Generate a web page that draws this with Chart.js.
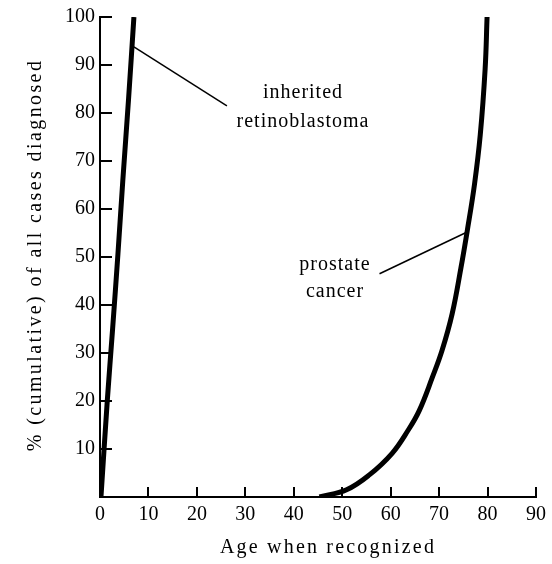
<!DOCTYPE html>
<html>
<head>
<meta charset="utf-8">
<script src="https://cdn.jsdelivr.net/npm/chart.js@4/dist/chart.umd.min.js"></script>
<style>
    html, body { margin: 0; padding: 0; background: #fff; }
    #wrap { width: 552px; height: 564px; }
</style>
</head>
<body>
<div id="wrap"><canvas id="chart" width="552" height="564"></canvas></div>
<script>
// values (age in years, cumulative %)
const retinoAge = [0.2, 1.5, 2.6, 3.7, 4.7, 5.9, 7.0];
const retinoPct = [0, 20, 35, 50.6, 65.8, 83, 100];

const prostateAge = [45.3, 50.9, 55.6, 60.3, 63.6, 65.9, 68.6, 70.6, 72.7, 74.5, 75.8, 77.3, 78.5, 79.5, 79.9];
const prostatePct = [0, 1.5, 4.6, 9.1, 13.9, 18, 24.9, 30.5, 38.2, 47.7, 55.4, 65.1, 75.5, 89.2, 100];

// leader lines for the two callouts
const retinoLeaderAge = [7.0, 26.2];
const retinoLeaderPct = [93.8, 81.5];
const prostateLeaderAge = [75.8, 57.7];
const prostateLeaderPct = [55.2, 46.5];

const xTicks = [0, 10, 20, 30, 40, 50, 60, 70, 80, 90];
const yTicks = [10, 20, 30, 40, 50, 60, 70, 80, 90, 100];

const FONT = '"Liberation Serif", "DejaVu Serif", serif';

function toPoints(xs, ys) {
    return xs.map((x, i) => ({ x: x, y: ys[i] }));
}

// inward tick marks, callout text and axis titles
const decorations = {
    id: 'decorations',
    afterDraw(chart) {
        const ctx = chart.ctx;
        const x = chart.scales.x;
        const y = chart.scales.y;
        const left = x.getPixelForValue(0);
        const bottom = y.getPixelForValue(0);

        ctx.save();
        ctx.strokeStyle = '#000';
        ctx.lineWidth = 2;
        ctx.beginPath();
        yTicks.forEach(v => {
            const py = Math.round(y.getPixelForValue(v));
            ctx.moveTo(left, py);
            ctx.lineTo(left + 12, py);
        });
        xTicks.slice(1).forEach(v => {
            const px = Math.round(x.getPixelForValue(v));
            ctx.moveTo(px, bottom);
            ctx.lineTo(px, bottom - 10);
        });
        ctx.stroke();

        ctx.fillStyle = '#000';
        ctx.textAlign = 'center';
        ctx.textBaseline = 'middle';
        ctx.font = '20px ' + FONT;
        ctx.letterSpacing = '1px';
        ctx.fillText('inherited', 303, 93);
        ctx.fillText('retinoblastoma', 303, 122);
        ctx.fillText('prostate', 335, 265);
        ctx.fillText('cancer', 335, 292);

        ctx.letterSpacing = '2.2px';
        ctx.fillText('Age when recognized', 328, 548);

        ctx.translate(36, 255);
        ctx.rotate(-Math.PI / 2);
        ctx.letterSpacing = '2.4px';
        ctx.fillText('% (cumulative) of all cases diagnosed', 0, 0);
        ctx.restore();
    }
};

const thick = { borderColor: '#000', borderWidth: 5, pointRadius: 0, showLine: true, tension: 0.4, fill: false };
const thin = { borderColor: '#000', borderWidth: 1.5, pointRadius: 0, showLine: true, tension: 0, fill: false };

new Chart(document.getElementById('chart'), {
    type: 'scatter',
    data: {
        datasets: [
            Object.assign({ label: 'inherited retinoblastoma', data: toPoints(retinoAge, retinoPct) }, thick),
            Object.assign({ label: 'prostate cancer', data: toPoints(prostateAge, prostatePct) }, thick),
            Object.assign({ label: 'retino leader', data: toPoints(retinoLeaderAge, retinoLeaderPct) }, thin),
            Object.assign({ label: 'prostate leader', data: toPoints(prostateLeaderAge, prostateLeaderPct) }, thin)
        ]
    },
    options: {
        responsive: false,
        animation: false,
        events: [],
        layout: { padding: { left: 0, top: 15, right: 15, bottom: 0 } },
        plugins: {
            legend: { display: false },
            tooltip: { enabled: false }
        },
        scales: {
            x: {
                type: 'linear',
                min: 0,
                max: 90,
                afterFit: (s) => { s.height = 67; },
                afterBuildTicks: (s) => { s.ticks = xTicks.map(v => ({ value: v })); },
                grid: { display: false, drawTicks: false },
                border: { display: true, color: '#000', width: 2 },
                ticks: {
                    color: '#000',
                    padding: 6,
                    font: { family: FONT, size: 20 }
                }
            },
            y: {
                type: 'linear',
                min: 0,
                max: 100,
                afterFit: (s) => { s.width = 100; },
                afterBuildTicks: (s) => { s.ticks = yTicks.map(v => ({ value: v })); },
                grid: { display: false, drawTicks: false },
                border: { display: true, color: '#000', width: 2 },
                ticks: {
                    color: '#000',
                    padding: 5,
                    font: { family: FONT, size: 20 }
                }
            }
        }
    },
    plugins: [decorations]
});
</script>
</body>
</html>
